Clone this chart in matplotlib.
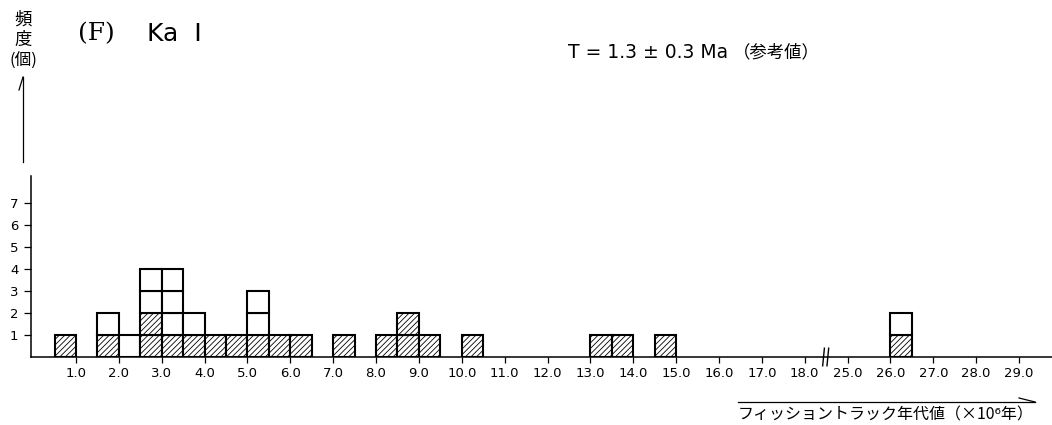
import numpy as np
import matplotlib
matplotlib.use('Agg')
import matplotlib.pyplot as plt
from matplotlib.lines import Line2D

# fission track ages, 0.5 Ma bins (left edge), grains per bin, hatched grains per bin
bin_left = [0.5, 1.5, 2.0, 2.5, 3.0, 3.5, 4.0, 4.5, 5.0, 5.5, 6.0, 7.0,
            8.0, 8.5, 9.0, 10.0, 13.0, 13.5, 14.5, 26.0]
total = [1, 2, 1, 4, 4, 2, 1, 1, 3, 1, 1, 1, 1, 2, 1, 1, 1, 1, 1, 2]
hatched = [1, 1, 0, 2, 1, 1, 1, 1, 1, 1, 1, 1, 1, 2, 1, 1, 1, 1, 1, 1]
bin_width = 0.5

tick_values = list(range(1, 19)) + list(range(25, 30))
tick_labels = ['%.1f' % v for v in tick_values]
y_ticks = [1, 2, 3, 4, 5, 6, 7]

W, H = 1052, 425

plt.rcParams['hatch.linewidth'] = 0.6


def squeeze(v):
    # axis break between 18.0 and 25.0
    return v - 6 if v >= 25 else v


def fp(x, y):
    # pixel (from top-left) -> figure fraction
    return x / W, 1 - y / H


fig = plt.figure(figsize=(W / 100, H / 100), dpi=100)
ax = fig.add_axes([31 / W, (H - 357) / H, (W - 31) / W, (357 - 176) / H])

for left, n, nh in zip(bin_left, total, hatched):
    for k in range(n):
        ax.bar(squeeze(left), 1, width=bin_width, bottom=k, align='edge',
               facecolor='white', edgecolor='black', linewidth=1.5,
               hatch='//////' if k < nh else None)

ax.set_xlim(-0.05, 23.77)
ax.set_ylim(0, 8.23)
ax.set_xticks([squeeze(v) for v in tick_values])
ax.set_xticklabels(tick_labels, fontsize=9.5)
ax.set_yticks(y_ticks)
ax.set_yticklabels([str(v) for v in y_ticks], fontsize=9.5)
ax.tick_params(axis='x', direction='out', length=4.5, width=0.9, pad=2.5)
ax.tick_params(axis='y', direction='out', length=5, width=0.9, pad=4)
for s in ['top', 'right']:
    ax.spines[s].set_visible(False)
for s in ['left', 'bottom']:
    ax.spines[s].set_linewidth(1.1)

# break marks on the x axis
for x0 in [18.42, 18.52]:
    ax.plot([x0, x0 + 0.04], [-0.4, 0.4], color='black', lw=1.0, clip_on=False)

jp = ['Noto Sans CJK JP', 'DejaVu Sans']

# y axis label with upward arrow
fig.text(*fp(23, 20), '頻', family=jp, fontsize=12.5, ha='center', va='center')
fig.text(*fp(23, 40), '度', family=jp, fontsize=12.5, ha='center', va='center')
fig.text(*fp(23, 61), '(個)', family=jp, fontsize=12, ha='center', va='center')
fig.add_artist(Line2D(*zip(fp(23, 162), fp(23, 77)), color='black', lw=0.9))
fig.add_artist(Line2D(*zip(fp(23, 77), fp(19, 90)), color='black', lw=0.9))

# titles
fig.text(*fp(78, 34), '(F)', family='DejaVu Serif', fontsize=18, ha='left', va='center')
fig.text(*fp(147, 34), 'Ka  I', family='DejaVu Sans', fontsize=18, ha='left', va='center')
fig.text(*fp(568, 52), 'T = 1.3 ± 0.3 Ma', family='DejaVu Sans', fontsize=13.5,
         ha='left', va='center')
fig.text(*fp(733, 52), '（参考値）', family=jp, fontsize=12.5, ha='left', va='center')

# x axis label with arrow
fig.add_artist(Line2D(*zip(fp(738, 402), fp(1035, 402)), color='black', lw=0.9))
fig.add_artist(Line2D(*zip(fp(1035, 402), fp(1019, 398)), color='black', lw=0.9))
fig.text(*fp(886, 415), 'フィッショントラック年代値（×10⁶年）', family=jp,
         fontsize=11.5, ha='center', va='center')

fig.savefig('out.png', dpi=100)
